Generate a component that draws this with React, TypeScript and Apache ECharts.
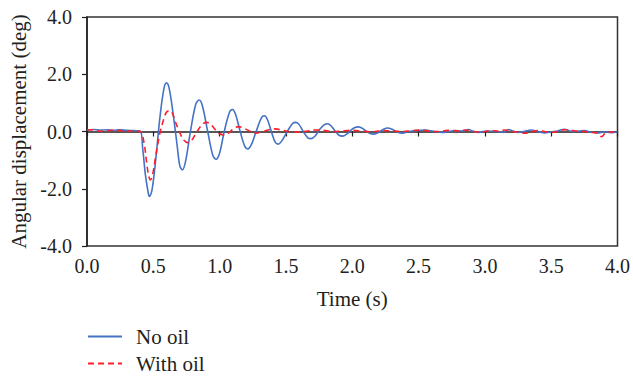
import React, { useEffect, useRef } from "react";
import * as echarts from "echarts";

// Time (s) and angular displacement (deg)
const noOilTime = [
  0, 0.05, 0.1, 0.15, 0.2, 0.25, 0.3, 0.35, 0.4,
  0.42, 0.44, 0.46, 0.47, 0.49, 0.52, 0.55, 0.58, 0.6, 0.62, 0.65, 0.68, 0.7, 0.72, 0.745,
  0.78, 0.82, 0.846, 0.87, 0.91, 0.95, 0.974, 1.0, 1.035, 1.075, 1.097, 1.12, 1.155, 1.19,
  1.213, 1.24, 1.275, 1.315, 1.338, 1.36, 1.39, 1.42, 1.443, 1.47, 1.51, 1.55, 1.576, 1.6,
  1.63, 1.665, 1.69, 1.72, 1.75, 1.79, 1.814, 1.84, 1.87, 1.9, 1.927, 1.96, 1.99, 2.02,
  2.047, 2.08, 2.12, 2.157, 2.19, 2.23, 2.265, 2.3, 2.34, 2.377, 2.42, 2.477, 2.55, 2.61,
  2.677, 2.73, 2.777, 2.83, 2.877, 2.91, 2.952, 3.02, 3.1, 3.14, 3.177, 3.21, 3.25, 3.3,
  3.35, 3.4, 3.45, 3.5, 3.55, 3.6, 3.64, 3.677, 3.75, 3.8, 3.85, 3.9, 3.95, 4.0,
];
const noOilValue = [
  0.05, 0.07, 0.05, 0.06, 0.04, 0.06, 0.04, 0.03, 0.02,
  -0.6, -1.5, -2.1, -2.27, -2.05, -0.9, 0.5, 1.5, 1.7, 1.5, 0.6, -0.5, -1.2, -1.34, -1.0,
  0.0, 0.95, 1.1, 0.9, 0.0, -0.85, -0.97, -0.75, 0.0, 0.68, 0.77, 0.6, 0.0, -0.52,
  -0.61, -0.45, 0.0, 0.48, 0.55, 0.42, 0.0, -0.38, -0.44, -0.32, 0.0, 0.28, 0.32, 0.24,
  0.0, -0.22, -0.25, -0.16, 0.05, 0.24, 0.27, 0.2, 0.02, -0.13, -0.16, -0.08, 0.05, 0.14,
  0.16, 0.1, -0.04, -0.09, -0.05, 0.06, 0.12, 0.08, -0.02, -0.06, -0.01, 0.03, 0.05, 0.01,
  -0.03, 0.0, 0.03, 0.02, 0.07, 0.01, -0.03, 0.02, 0.0, -0.03, 0.07, 0.02, -0.03, 0.01,
  0.05, 0.0, -0.05, -0.01, 0.02, 0.08, 0.02, 0.0, 0.03, -0.02, -0.05, -0.01, -0.04, -0.02,
];

const withOilTime = [
  0, 0.05, 0.1, 0.15, 0.2, 0.25, 0.3, 0.35, 0.4,
  0.43, 0.45, 0.465, 0.478, 0.495, 0.52, 0.55, 0.58, 0.6, 0.623, 0.645, 0.67, 0.7, 0.73,
  0.758, 0.79, 0.83, 0.87, 0.9, 0.93, 0.97, 1.0, 1.03, 1.06, 1.1, 1.142, 1.18, 1.22, 1.273,
  1.32, 1.37, 1.418, 1.47, 1.52, 1.58, 1.65, 1.72, 1.78, 1.85, 1.92, 2.0, 2.08, 2.15, 2.22,
  2.3, 2.38, 2.45, 2.52, 2.58, 2.65, 2.72, 2.8, 2.85, 2.9, 2.95, 3.0, 3.05, 3.1, 3.15, 3.2,
  3.25, 3.3, 3.35, 3.4, 3.45, 3.5, 3.55, 3.6, 3.65, 3.7, 3.75, 3.8, 3.85, 3.88, 3.91, 3.95, 4.0,
];
const withOilValue = [
  0.05, 0.06, 0.01, 0.02, 0.05, 0.03, 0.01, 0.02, 0.01,
  -0.4, -1.1, -1.55, -1.69, -1.5, -0.8, -0.05, 0.45, 0.68, 0.73, 0.62, 0.3, -0.05, -0.3,
  -0.39, -0.3, 0.0, 0.25, 0.32, 0.26, 0.05, -0.08, -0.12, -0.08, 0.08, 0.17, 0.12, 0.03, -0.06,
  -0.01, 0.06, 0.09, 0.05, 0.0, -0.02, 0.01, 0.05, 0.04, 0.0, 0.02, 0.04, 0.01, -0.01, 0.03,
  0.02, 0.0, 0.03, 0.05, 0.01, 0.0, 0.04, 0.02, 0.05, 0.02, -0.02, 0.0, 0.04, 0.01, 0.05, 0.0,
  -0.02, -0.06, -0.01, 0.03, 0.0, -0.03, 0.0, 0.06, 0.04, 0.01, 0.0, -0.03, -0.06, -0.18, -0.05, -0.02, 0.0,
];

const seriesNames = ["No oil", "With oil"];
const xAxisName = "Time (s)";
const yAxisName = "Angular displacement (deg)";

const FONT = "'Liberation Serif', 'DejaVu Serif', serif";
const INK = "#231f20";

export default function App() {
  const ref = useRef<HTMLDivElement>(null);

  useEffect(() => {
    if (!ref.current) return;
    document.body.style.margin = "0";
    const chart = echarts.init(ref.current, undefined, { renderer: "svg" });
    const pair = (t: number[], v: number[]) => t.map((x, i) => [x, v[i]]);
    const legendBase = {
      orient: "vertical",
      left: 87,
      padding: 0,
      itemWidth: 34,
      itemHeight: 14,
      itemStyle: { opacity: 0 },
      textStyle: { fontFamily: FONT, fontSize: 21, color: INK, padding: [0, 0, 0, 9] },
    };
    chart.setOption({
      animation: false,
      backgroundColor: "#ffffff",
      textStyle: { fontFamily: FONT, color: INK },
      grid: {
        left: 87,
        top: 17,
        right: 14,
        bottom: 130,
        show: true,
        borderColor: "#333333",
        borderWidth: 1.5,
        backgroundColor: "transparent",
      },
      legend: [
        { ...legendBase, top: 326, data: [seriesNames[0]] },
        { ...legendBase, top: 353, data: [seriesNames[1]] },
      ],
      xAxis: {
        type: "value",
        min: 0,
        max: 4,
        interval: 0.5,
        name: xAxisName,
        nameLocation: "middle",
        nameGap: 42,
        nameTextStyle: { fontFamily: FONT, fontSize: 21, color: INK },
        axisLine: { show: true, lineStyle: { color: INK, width: 1.5 } },
        axisTick: { show: true, inside: false, length: 5, lineStyle: { color: INK, width: 1.2 } },
        axisLabel: {
          fontFamily: FONT,
          fontSize: 20,
          color: INK,
          margin: 10,
          formatter: (v: number) => v.toFixed(1),
        },
        splitLine: { show: false },
      },
      yAxis: {
        type: "value",
        min: -4,
        max: 4,
        interval: 2,
        name: yAxisName,
        nameLocation: "middle",
        nameGap: 54,
        nameTextStyle: { fontFamily: FONT, fontSize: 21, color: INK },
        axisLine: { show: true, lineStyle: { color: INK, width: 1.5 } },
        axisTick: { show: true, inside: false, length: 5, lineStyle: { color: INK, width: 1.2 } },
        axisLabel: {
          fontFamily: FONT,
          fontSize: 20,
          color: INK,
          margin: 15,
          formatter: (v: number) => v.toFixed(1),
        },
        splitLine: { show: false },
      },
      series: [
        {
          name: seriesNames[0],
          type: "line",
          data: pair(noOilTime, noOilValue),
          symbol: "none",
          smooth: 0.35,
          lineStyle: { color: "#4472c4", width: 1.6 },
          itemStyle: { color: "#4472c4" },
          z: 2,
        },
        {
          name: seriesNames[1],
          type: "line",
          data: pair(withOilTime, withOilValue),
          symbol: "none",
          smooth: 0.35,
          lineStyle: { color: "#ff1f2a", width: 1.6, type: [6, 4] },
          itemStyle: { color: "#ff1f2a" },
          z: 3,
        },
      ],
    });
    return () => chart.dispose();
  }, []);

  return (
    <div
      ref={ref}
      style={{ position: "fixed", left: 0, top: 0, width: 633, height: 376 }}
    />
  );
}
